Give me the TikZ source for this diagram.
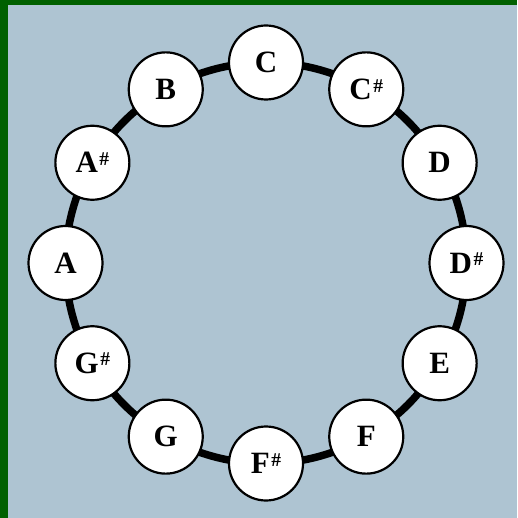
\documentclass[tikz,border=0pt]{standalone}
\usepackage{fontspec}
\setmainfont{Liberation Serif}
\usetikzlibrary{calc}
\definecolor{bgblue}{RGB}{174,196,210}
\definecolor{frameGreen}{RGB}{0,96,0}
\tikzset{
  note/.style={circle, draw=black, line width=2.2pt, fill=white, minimum size=74pt, inner sep=0pt,
    font=\fontsize{31}{31}\selectfont\bfseries},
  ring/.style={line width=7.5pt, draw=black}
}
\newcommand{\shp}{\kern1.5pt\raisebox{7.4pt}{\fontsize{19.5}{19.5}\selectfont\#}}
\begin{document}
\begin{tikzpicture}[x=1pt,y=-1pt]
\useasboundingbox (0,0) rectangle (517,518);
\fill[frameGreen] (0,0) rectangle (517,518);
\fill[bgblue] (8,5) rectangle (517,518);
\coordinate (ctr) at (266,263);
\draw[ring] (ctr) circle[radius=200.5];
\foreach \n/\lab [count=\k from 0] in {nC/C, nCs/C\shp, nD/D, nDs/D\shp, nE/E, nF/F, nFs/F\shp, nG/G, nGs/G\shp, nA/A, nAs/A\shp, nB/B}{
  \node[note] (\n) at ($(ctr)+({200.5*cos(90-30*\k)},{-200.5*sin(90-30*\k)})$) {\lab};
}
\end{tikzpicture}
\end{document}
